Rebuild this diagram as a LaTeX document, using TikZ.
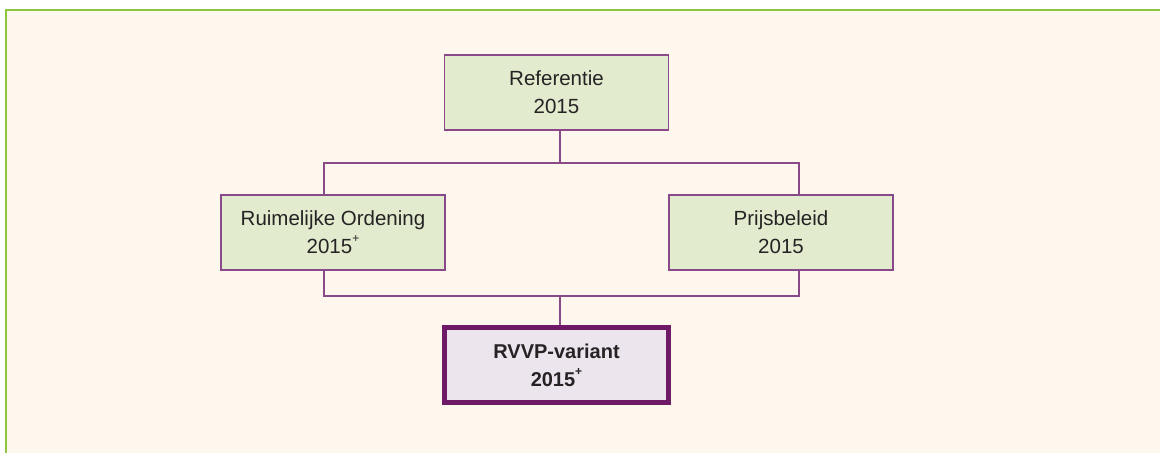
\documentclass[tikz,border=0pt]{standalone}
\usepackage{fontspec}
\setmainfont{Liberation Sans}
\definecolor{bg}{HTML}{FEF7EE}
\definecolor{frame}{HTML}{8CC63F}
\definecolor{boxfill}{HTML}{E2EBCE}
\definecolor{purp}{HTML}{8A4A8A}
\definecolor{darkpurp}{HTML}{6E1A66}
\definecolor{resfill}{HTML}{EDE5EE}
\definecolor{txt}{HTML}{262324}
\newcommand{\supplus}{\raisebox{0.55em}{\fontsize{12}{12}\selectfont +}}
\begin{document}
\begin{tikzpicture}[x=1pt,y=-1pt,
  scenbox/.style={draw=purp,line width=1.5pt,fill=boxfill,minimum width=224pt,minimum height=75pt,
    align=center,text=txt,font=\fontsize{20.5}{28}\selectfont,inner sep=0pt},
  resbox/.style={draw=darkpurp,line width=5pt,fill=resfill,minimum width=224pt,minimum height=75pt,
    align=center,text=txt,font=\fontsize{20}{28}\selectfont\bfseries,inner sep=0pt},
  conn/.style={draw=purp,line width=1.5pt}]
\useasboundingbox (0,0) rectangle (1160,453);
\fill[bg] (7,11) rectangle (1160,453);
\draw[frame,line width=2pt] (6,453) -- (6,10) -- (1160,10);
\node[scenbox] (ref) at (556.5,92.5) {Referentie\\2015};
\node[scenbox] (ro) at (333,232.5) {Ruimelijke Ordening\\2015\supplus};
\node[scenbox] (pb) at (781,232.5) {Prijsbeleid\\2015};
\node[resbox] (rv) at (556.5,365) {RVVP-variant\\2015\supplus};
\coordinate (topsplit) at (560,163);
\coordinate (botjoin) at (560,296);
\draw[conn] (ref.south -| topsplit) -- (topsplit);
\draw[conn] (ro.north -| 324,0) -- (324,163) -- (799,163) -- (pb.north -| 799,0);
\draw[conn] (ro.south -| 324,0) -- (324,296) -- (799,296) -- (pb.south -| 799,0);
\draw[conn] (botjoin) -- (rv.north -| botjoin);
\end{tikzpicture}
\end{document}
